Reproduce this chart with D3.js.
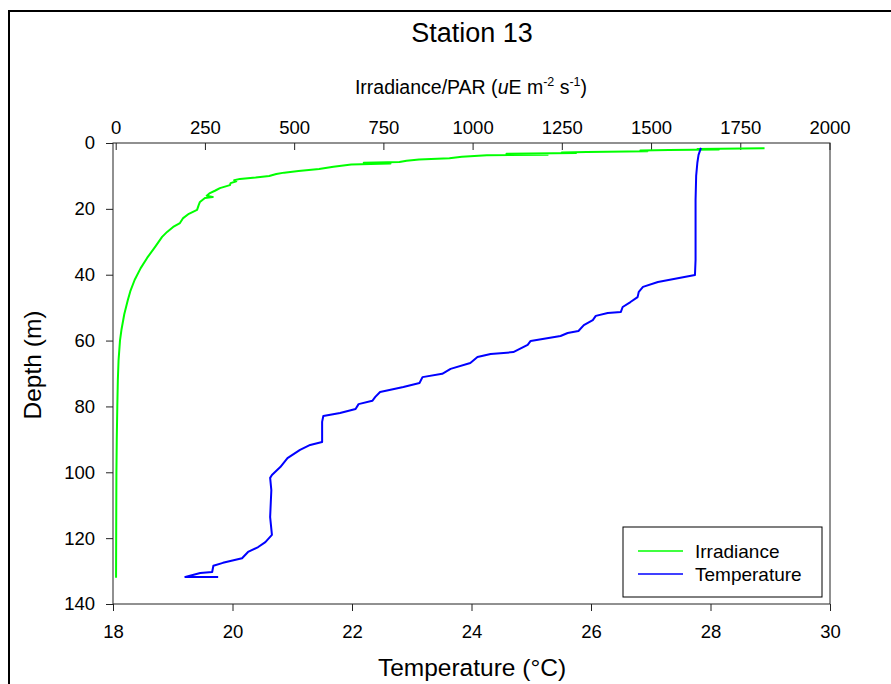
<!DOCTYPE html>
<html>
<head>
<meta charset="utf-8">
<script src="https://cdn.jsdelivr.net/npm/d3@7"></script>
<style>
  body { margin: 0; background: #fff; }
  svg text { font-family: 'Liberation Sans', Arial, sans-serif; fill: #000; }
</style>
</head>
<body>
<svg id="chart" width="891" height="684"></svg>
<script>
// irradiance profile (depth in m, PAR in uE m-2 s-1)
const irrDepth = [1.6, 1.8, 2.0, 2.1, 2.3, 2.5, 2.7, 2.9, 3.0, 3.3, 3.6, 3.7, 4.2, 4.6, 5.0, 5.4, 5.8, 6.0, 6.2, 6.5,
    7.2, 7.9, 8.5, 9.0, 9.4, 10.0, 10.5, 10.9, 11.3, 11.6, 12.2, 12.8, 13.7, 14.5, 15.2, 16.0, 16.4, 16.7, 17.9, 19.0,
    20.3, 21.5, 22.8, 24.3, 25.5, 27.0, 28.5, 31.6, 34.9, 38, 41.6, 45, 47.7, 52, 56.8, 60, 66, 72, 80, 90,
    100, 115, 132]
const irradiance = [1818, 1630, 1690, 1550, 1470, 1490, 1320, 1250, 1290, 1095, 1210, 1040, 970, 935, 850, 815, 795, 695, 770, 660,
    610, 570, 512, 472, 450, 430, 392, 348, 332, 338, 322, 320, 292, 278, 264, 255, 272, 250, 236, 232,
    228, 205, 189, 180, 161, 144, 130, 110, 88, 70, 53, 41, 34, 24, 16, 12, 8, 6, 4.5, 3,
    2, 1.5, 1]

// temperature profile (depth in m, degC)
const tempDepth = [1.5, 3.6, 6, 10, 17.3, 35.5, 40.1, 42.2, 43.7, 45.2, 46.8, 48.3, 49.8, 51.3, 51.6, 52.5, 53.8, 55.3, 57.1, 57.7,
    58.6, 60.1, 61.3, 63.5, 64.1, 65.0, 66.8, 68.6, 70.1, 71.1, 72.9, 74.1, 75.6, 77.1, 78.3, 79.3, 80.8, 82.0, 82.9, 84.7,
    90.8, 91.7, 93.2, 95.7, 98.4, 100.8, 101.7, 105.4, 113.6, 119.0, 121.2, 122.7, 124.2, 126.1, 127.5, 128.4, 130.3, 130.6, 131.8, 131.8]
const temperature = [27.84, 27.80, 27.78, 27.76, 27.75, 27.75, 27.74, 27.12, 26.87, 26.80, 26.78, 26.66, 26.53, 26.50, 26.28, 26.08, 26.03, 25.88, 25.79, 25.61,
    25.49, 24.99, 24.94, 24.70, 24.32, 24.10, 23.98, 23.65, 23.51, 23.18, 23.13, 22.86, 22.47, 22.39, 22.34, 22.11, 22.06, 21.80, 21.52, 21.50,
    21.50, 21.30, 21.13, 20.92, 20.80, 20.66, 20.63, 20.65, 20.63, 20.66, 20.55, 20.43, 20.26, 20.16, 19.84, 19.68, 19.66, 19.46, 19.21, 19.76]

const depthTicks = [0, 20, 40, 60, 80, 100, 120, 140]
const tempTicks = [18, 20, 22, 24, 26, 28, 30]
const irrTicks = [0, 250, 500, 750, 1000, 1250, 1500, 1750, 2000]

const svg = d3.select('#chart')

const plotLeft = 113, plotRight = 830, plotTop = 143, plotBottom = 604

let y = d3.scaleLinear().domain([0, 140]).range([plotTop, plotBottom])
let xTemp = d3.scaleLinear().domain([18, 30]).range([plotLeft, plotRight])
let xIrr = d3.scaleLinear().domain([0, 2000]).range([115.7, 829.5])

// outer frame
svg.append('rect')
    .attr('x', 9)
    .attr('y', 11)
    .attr('width', 900)
    .attr('height', 700)
    .attr('fill', 'none')
    .attr('stroke', '#000')
    .attr('stroke-width', 2)

// plot frame
svg.append('rect')
    .attr('x', plotLeft)
    .attr('y', plotTop)
    .attr('width', plotRight - plotLeft)
    .attr('height', plotBottom - plotTop)
    .attr('fill', 'none')
    .attr('stroke', '#222')
    .attr('stroke-width', 1)

// axes
let styleAxis = g => {
    g.select('.domain').remove()
    g.selectAll('.tick line').attr('stroke', '#222')
    g.selectAll('.tick text')
        .style('font-size', '18.5px')
        .style('font-family', "'Liberation Sans', Arial, sans-serif")
        .attr('fill', '#000')
}

svg.append('g')
    .attr('transform', 'translate(0,' + plotBottom + ')')
    .call(d3.axisBottom(xTemp).tickValues(tempTicks).tickSize(7).tickPadding(14).tickFormat(d3.format('d')))
    .call(styleAxis)

svg.append('g')
    .attr('transform', 'translate(' + plotLeft + ',0)')
    .call(d3.axisLeft(y).tickValues(depthTicks).tickSize(7).tickPadding(11).tickFormat(d3.format('d')))
    .call(styleAxis)

svg.append('g')
    .attr('transform', 'translate(0,' + plotTop + ')')
    .call(d3.axisTop(xIrr).tickValues(irrTicks).tickSize(-7).tickPadding(9).tickFormat(d3.format('d')))
    .call(styleAxis)

// lines
let irrLine = d3.line()
    .x((d, i) => xIrr(irradiance[i]))
    .y((d, i) => y(irrDepth[i]))

let tempLine = d3.line()
    .x((d, i) => xTemp(temperature[i]))
    .y((d, i) => y(tempDepth[i]))

svg.append('path')
    .datum(irrDepth)
    .attr('d', irrLine)
    .attr('fill', 'none')
    .attr('stroke', '#00ff00')
    .attr('stroke-width', 2)
    .attr('stroke-linejoin', 'round')

svg.append('path')
    .datum(tempDepth)
    .attr('d', tempLine)
    .attr('fill', 'none')
    .attr('stroke', '#0000ff')
    .attr('stroke-width', 2)
    .attr('stroke-linejoin', 'round')

// titles
svg.append('text')
    .attr('x', 472)
    .attr('y', 42)
    .attr('text-anchor', 'middle')
    .style('font-size', '27px')
    .text('Station 13')

let irrTitle = svg.append('text')
    .attr('x', 471)
    .attr('y', 94)
    .attr('text-anchor', 'middle')
    .style('font-size', '19.5px')
irrTitle.append('tspan').text('Irradiance/PAR (')
irrTitle.append('tspan').style('font-style', 'italic').text('u')
irrTitle.append('tspan').text('E m')
irrTitle.append('tspan').attr('dy', -8).style('font-size', '12.5px').text('-2')
irrTitle.append('tspan').attr('dy', 8).text(' s')
irrTitle.append('tspan').attr('dy', -8).style('font-size', '12.5px').text('-1')
irrTitle.append('tspan').attr('dy', 8).text(')')

svg.append('text')
    .attr('x', 472)
    .attr('y', 676)
    .attr('text-anchor', 'middle')
    .style('font-size', '24.5px')
    .text('Temperature (°C)')

svg.append('text')
    .attr('transform', 'translate(41,365) rotate(-90)')
    .attr('text-anchor', 'middle')
    .style('font-size', '24.5px')
    .text('Depth (m)')

// legend
let legendData = [
    { name: 'Irradiance', color: '#00ff00' },
    { name: 'Temperature', color: '#0000ff' }
]

let legend = svg.append('g')
    .attr('class', 'legend')
    .attr('transform', 'translate(623,527)')

legend.append('rect')
    .attr('width', 199)
    .attr('height', 70)
    .attr('fill', '#fff')
    .attr('stroke', '#000')
    .attr('stroke-width', 1)

let item = legend.selectAll('.item')
    .data(legendData)
    .enter()
    .append('g')
    .attr('class', 'item')
    .attr('transform', (d, i) => 'translate(0,' + (24 + i * 23) + ')')

item.append('line')
    .attr('x1', 15)
    .attr('x2', 60)
    .attr('stroke', d => d.color)
    .attr('stroke-width', 1.5)

item.append('text')
    .attr('x', 72)
    .attr('y', 6.5)
    .style('font-size', '19px')
    .text(d => d.name)
</script>
</body>
</html>
